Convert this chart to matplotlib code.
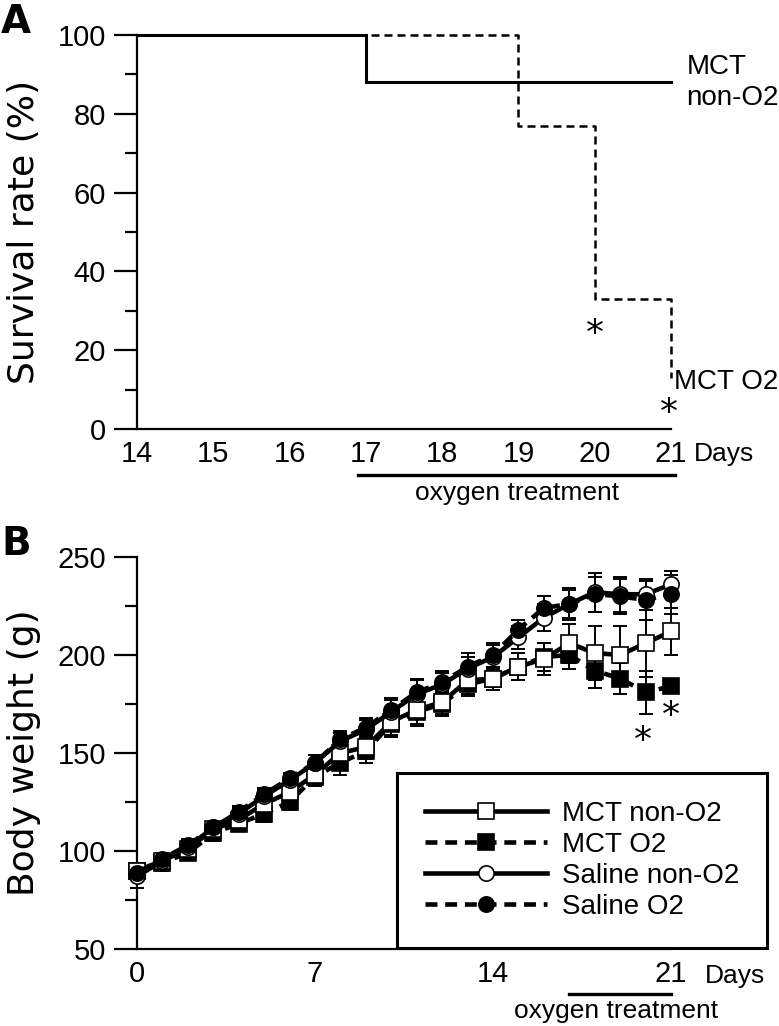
import matplotlib
matplotlib.use('Agg')
import matplotlib.pyplot as plt
from matplotlib.ticker import MultipleLocator

# panel A: survival (%)
surv_days = [14, 17, 19, 20, 21]
mct_non_surv = [100, 88, 88, 88, 88]
mct_o2_surv = [100, 100, 77, 33, 13]

# panel B: body weight (g), mean and error
days = list(range(22))
mct_non = [90, 95, 101, 111, 116, 124, 130, 139, 150, 153, 166, 172, 176, 187, 188, 194, 198, 206, 201, 200, 206, 212]
mct_non_err = [3, 4, 4, 4, 4, 4, 4, 5, 6, 6, 7, 7, 6, 7, 6, 7, 8, 10, 14, 15, 17, 12]
mct_o2 = [90, 94, 99, 109, 114, 119, 125, 138, 145, 151, 165, 171, 175, 185, 188, 194, 199, 200, 192, 188, 181, 184]
mct_o2_err = [4, 4, 3, 4, 4, 4, 4, 5, 6, 6, 7, 7, 6, 6, 6, 7, 7, 7, 9, 8, 11, 2]
saline_non = [87, 95, 102, 112, 119, 128, 136, 145, 156, 162, 171, 180, 185, 193, 199, 209, 219, 226, 232, 231, 231, 236]
saline_non_err = [6, 3, 3, 3, 3, 3, 3, 4, 4, 5, 6, 7, 6, 6, 6, 6, 7, 8, 10, 9, 8, 7]
saline_o2 = [89, 96, 103, 112, 120, 129, 137, 145, 157, 163, 172, 181, 186, 194, 200, 213, 224, 226, 231, 230, 228, 231]
saline_o2_err = [3, 3, 3, 3, 3, 3, 3, 4, 4, 5, 6, 7, 6, 7, 6, 5, 6, 7, 9, 9, 10, 10]

plt.rcParams['font.family'] = ['Liberation Sans', 'DejaVu Sans']

W, H = 779, 1026
fig = plt.figure(figsize=(W / 100, H / 100), dpi=100)

def style_axis(ax, major, minor, ylim):
    for s in ['top', 'right']:
        ax.spines[s].set_visible(False)
    for s in ['left', 'bottom']:
        ax.spines[s].set_linewidth(1.6)
    ax.set_ylim(*ylim)
    ax.yaxis.set_major_locator(MultipleLocator(major))
    ax.yaxis.set_minor_locator(MultipleLocator(minor))
    ax.tick_params(axis='y', which='major', direction='out', length=16.5, width=1.6, pad=6, labelsize=21)
    ax.tick_params(axis='y', which='minor', direction='out', length=8.5, width=1.6)
    ax.tick_params(axis='x', length=0, pad=8, labelsize=21)

# ---------------- panel A ----------------
axA = fig.add_axes([137 / W, 1 - 429 / H, 534 / W, 394 / H])
axA.plot(surv_days, mct_o2_surv, drawstyle='steps-post', color='k', lw=1.8,
         linestyle=(0, (3.2, 2.0)), clip_on=False)
axA.plot(surv_days, mct_non_surv, drawstyle='steps-post', color='k', lw=2.2,
         clip_on=False, solid_joinstyle='miter')
axA.set_xlim(14, 21)
axA.set_xticks(range(14, 22))
style_axis(axA, 20, 10, (0, 100))

axA.text(21.2, 88, 'MCT\nnon-O2', fontsize=20, va='center', ha='left', linespacing=1.25)
axA.text(21.04, 12, 'MCT O2', fontsize=20, va='center', ha='left')
axA.text(20, 24, '*', fontsize=26, ha='center', va='center', family='DejaVu Sans')
axA.text(20.97, 4, '*', fontsize=26, ha='center', va='center', family='DejaVu Sans')

trA = axA.get_xaxis_transform()
axA.plot([16.9, 21.05], [-0.117, -0.117], color='k', lw=2.4, transform=trA, clip_on=False)
axA.text(18.98, -0.162, 'oxygen treatment', fontsize=19, ha='center', va='center', transform=trA)
fig.text(694 / W, 1 - 454 / H, 'Days', fontsize=19, va='center', ha='left')
fig.text(24 / W, 1 - 232 / H, 'Survival rate (%)', rotation=90, fontsize=26,
         family='DejaVu Sans', ha='center', va='center')
fig.text(1 / W, 1 - 33 / H, 'A', fontsize=28, weight='bold', family='DejaVu Sans', va='baseline')

# ---------------- panel B ----------------
axB = fig.add_axes([137 / W, 1 - 949 / H, 534 / W, 392 / H])
series = [
    (mct_o2, mct_o2_err, 's', 'k', (0, (2.6, 1.7)), 'MCT O2'),
    (mct_non, mct_non_err, 's', 'white', '-', 'MCT non-O2'),
    (saline_non, saline_non_err, 'o', 'white', '-', 'Saline non-O2'),
    (saline_o2, saline_o2_err, 'o', 'k', (0, (2.6, 1.7)), 'Saline O2'),
]
handles = {}
for i, (vals, err, mk, fc, ls, lab) in enumerate(series):
    axB.errorbar(days, vals, yerr=err, fmt='none', ecolor='k', elinewidth=1.4,
                 capsize=5.2, capthick=1.4, zorder=2 + i * 0.1, clip_on=False)
    ln, = axB.plot(days, vals, color='k', lw=3.3, linestyle=ls, marker=mk, markersize=11,
                   markerfacecolor=fc, markeredgecolor='k', markeredgewidth=1.2,
                   zorder=3 + i, clip_on=False, label=lab)
    handles[lab] = ln

axB.set_xlim(0, 21)
axB.set_xticks([0, 7, 14, 21])
style_axis(axB, 50, 25, (50, 250))

axB.text(19.9, 156, '*', fontsize=26, ha='center', va='center', family='DejaVu Sans')
axB.text(21.0, 169, '*', fontsize=26, ha='center', va='center', family='DejaVu Sans')

order = ['MCT non-O2', 'MCT O2', 'Saline non-O2', 'Saline O2']
leg = axB.legend([handles[k] for k in order], order, loc='upper left',
                 bbox_to_anchor=(397 / W, 1 - 773 / H), bbox_transform=fig.transFigure,
                 borderaxespad=0, fontsize=20, handlelength=4.4, handletextpad=0.55,
                 labelspacing=0.18, borderpad=1.0, fancybox=False, framealpha=1,
                 edgecolor='k')
leg.get_frame().set_linewidth(2.2)
leg.set_zorder(10)

trB = axB.get_xaxis_transform()
axB.plot([17, 21], [-0.115, -0.115], color='k', lw=2.4, transform=trB, clip_on=False)
axB.text(18.84, -0.158, 'oxygen treatment', fontsize=19, ha='center', va='center', transform=trB)
fig.text(705 / W, 1 - 976 / H, 'Days', fontsize=19, va='center', ha='left')
fig.text(24 / W, 1 - 753 / H, 'Body weight (g)', rotation=90, fontsize=26,
         family='DejaVu Sans', ha='center', va='center')
fig.text(1 / W, 1 - 555 / H, 'B', fontsize=28, weight='bold', family='DejaVu Sans', va='baseline')

fig.savefig('out.png', dpi=100)
